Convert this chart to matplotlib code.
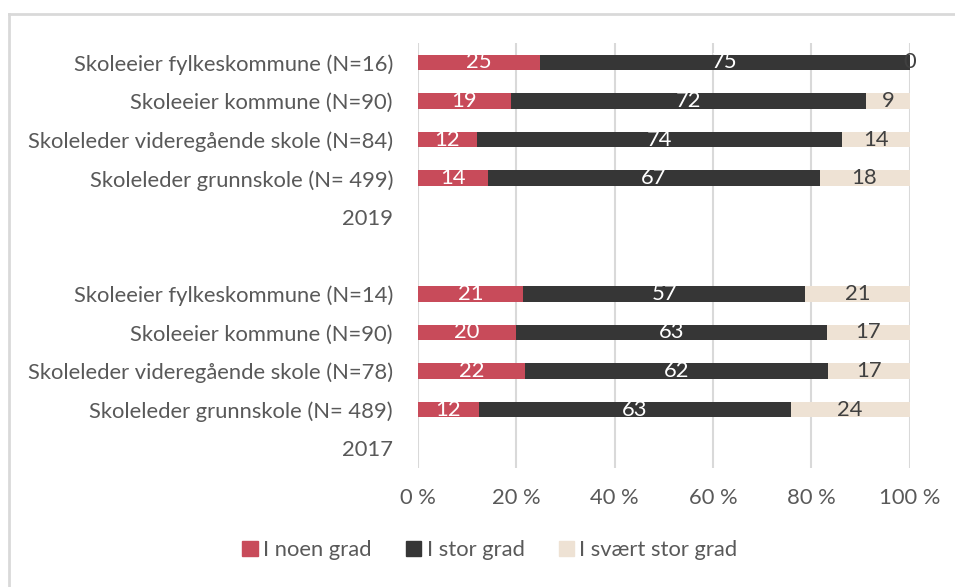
import matplotlib
matplotlib.use("Agg")
import matplotlib.pyplot as plt
from matplotlib.lines import Line2D
import numpy as np

categories = [
    "Skoleeier fylkeskommune (N=16)",
    "Skoleeier kommune (N=90)",
    "Skoleleder videregående skole (N=84)",
    "Skoleleder grunnskole (N= 499)",
    "2019",
    "",
    "Skoleeier fylkeskommune (N=14)",
    "Skoleeier kommune (N=90)",
    "Skoleleder videregående skole (N=78)",
    "Skoleleder grunnskole (N= 489)",
    "2017",
]
# None = no bar for this row (year heading / spacer)
noen_grad = [24.9, 18.9, 12.0, 14.3, None, None, 21.4, 19.9, 21.8, 12.4, None]
stor_grad = [75.1, 72.3, 74.2, 67.4, None, None, 57.4, 63.3, 61.6, 63.4, None]
svaert_stor_grad = [0.0, 8.8, 13.8, 18.3, None, None, 21.2, 16.8, 16.6, 24.2, None]
series_names = ["I noen grad", "I stor grad", "I svært stor grad"]
xticks = [0, 20, 40, 60, 80, 100]
xticklabels = ["0 %", "20 %", "40 %", "60 %", "80 %", "100 %"]

colors = ["#C84B5A", "#363636", "#EEE2D4"]
label_colors = ["white", "white", "#404040"]

plt.rcParams['font.family'] = ['Lato', 'DejaVu Sans']
FS = 15.8

fig = plt.figure(figsize=(9.55, 5.87), dpi=100)
W, H = 955, 587
ax = fig.add_axes([418 / W, 1 - 467.5 / H, (909.5 - 418) / W, (467.5 - 43.2) / H])

n = len(categories)
y = np.arange(n)
series = [noen_grad, stor_grad, svaert_stor_grad]
left = np.zeros(n)
bar_h = 0.40
for s_idx, (vals, col, lc, name) in enumerate(zip(series, colors, label_colors, series_names)):
    for i, v in enumerate(vals):
        if v is None:
            continue
        ax.barh(y[i], v, left=left[i], height=bar_h, color=col, zorder=3)
        cx = left[i] + v / 2
        ax.text(cx, y[i], f"{v:.0f}", ha="center", va="center",
                color=lc, fontsize=FS, zorder=4)
        left[i] += v

ax.set_ylim(n - 0.5, -0.5)
ax.set_xlim(0, 100)
ax.set_yticks(y)
ax.set_yticklabels(categories, fontsize=FS, color="#595959")
ax.set_xticks(xticks)
ax.set_xticklabels(xticklabels, fontsize=FS, color="#595959")
ax.tick_params(axis="y", length=0, pad=18)
ax.tick_params(axis="x", length=0, pad=15)
ax.grid(axis="x", color="#D9D9D9", linewidth=1.5, zorder=0)
for sp in ax.spines.values():
    sp.set_visible(False)
ax.set_axisbelow(True)

handles = [plt.Rectangle((0, 0), 1, 1, color=c) for c in colors]
fig.legend(handles, series_names, loc="center", bbox_to_anchor=(490 / W, 1 - 550 / H),
           ncol=3, frameon=False, fontsize=FS, handlelength=0.7, handleheight=0.7,
           handletextpad=0.25, columnspacing=1.55, labelcolor="#595959")

# chart frame (top and left edges visible)
fig.add_artist(Line2D([9 / W, 1], [1 - 14 / H, 1 - 14 / H], color="#D9D9D9", linewidth=2, transform=fig.transFigure))
fig.add_artist(Line2D([9 / W, 9 / W], [0, 1 - 14 / H], color="#D9D9D9", linewidth=2, transform=fig.transFigure))

fig.savefig("out.png", dpi=100)
